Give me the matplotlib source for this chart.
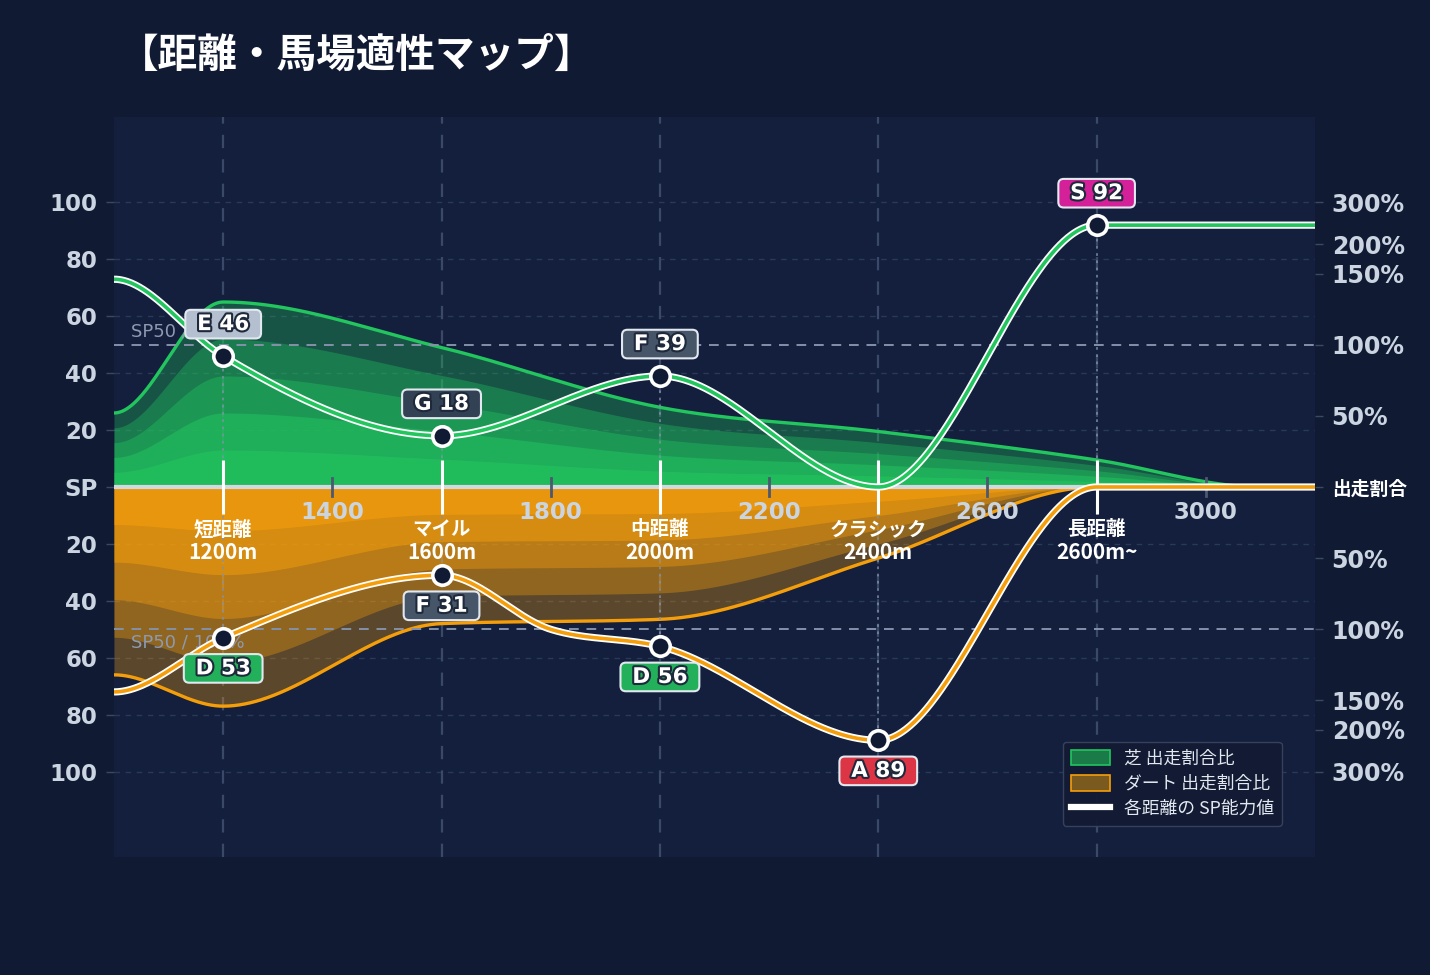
import numpy as np
import matplotlib
matplotlib.use("Agg")
import matplotlib.pyplot as plt
import matplotlib.patheffects as pe
from matplotlib.patches import Patch
from matplotlib.lines import Line2D

plt.rcParams['font.family'] = ['Noto Sans CJK JP', 'DejaVu Sans']

# SP ability per distance
turf_dist = [1000, 1200, 1600, 2000, 2400, 2800, 3200]
turf_sp = [73, 46, 18, 39, 0, 92, 92]
dirt_dist = [1000, 1200, 1600, 1800, 2000, 2400, 2800, 3200]
dirt_sp = [72, 53, 31, 50, 56, 89, 0, 0]

# share (出走割合比) outlines, in chart units
turf_share_dist = [1000, 1200, 1600, 2000, 2400, 2800, 3100, 3200]
turf_share = [26, 65, 49, 28, 19.5, 9.5, 0, 0]
dirt_share_dist = [1000, 1200, 1600, 2000, 2400, 2800, 3200]
dirt_share = [66, 77, 48, 46.5, 25, 0, 0]

cat_dist = [1200, 1600, 2000, 2400, 2800]
cat_names = ['短距離', 'マイル', '中距離', 'クラシック', '長距離']
cat_labels = ['1200m', '1600m', '2000m', '2400m', '2600m~']
turf_rank = ['E', 'G', 'F', '', 'S']
dirt_rank = ['D', 'F', 'D', 'A', '']
minor_dist = [1400, 1800, 2200, 2600, 3000]

ratio_ticks = [0.5, 1.0, 1.5, 2.0, 3.0]
rank_colors = {'S': '#d4219a', 'A': '#dc3545', 'B': '#f97316', 'C': '#eab308',
               'D': '#22b05a', 'E': '#b4c0d0', 'F': '#475569', 'G': '#334155'}

BG = '#101a33'
PLOT_BG = '#131f3c'
GREEN = '#22c55e'
ORANGE = '#f59e0b'
TXT = '#cbd5e1'
LAYERS = [(1.0, 0.32), (0.8, 0.35), (0.6, 0.4), (0.4, 0.5), (0.2, 0.6)]


def monotone(x, y, xs):
    x = np.asarray(x, float)
    y = np.asarray(y, float)
    h = np.diff(x)
    s = np.diff(y) / h
    n = len(x)
    m = np.zeros(n)
    for i in range(1, n - 1):
        if s[i - 1] * s[i] > 0:
            p = (s[i - 1] * h[i] + s[i] * h[i - 1]) / (h[i - 1] + h[i])
            m[i] = np.sign(s[i - 1]) * 2 * min(abs(s[i - 1]), abs(s[i]), 0.5 * abs(p))
    idx = np.clip(np.searchsorted(x, xs) - 1, 0, n - 2)
    t = (xs - x[idx]) / h[idx]
    h00 = 2 * t**3 - 3 * t**2 + 1
    h10 = t**3 - 2 * t**2 + t
    h01 = -2 * t**3 + 3 * t**2
    h11 = t**3 - t**2
    return (h00 * y[idx] + h10 * h[idx] * m[idx] +
            h01 * y[idx + 1] + h11 * h[idx] * m[idx + 1])


def ratio_to_y(r):
    return 50 * r if r <= 1.5 else 75 + 25 * np.log2(r / 1.5)


xs = np.linspace(1000, 3200, 900)
turf_line = monotone(turf_dist, turf_sp, xs)
dirt_line = -monotone(dirt_dist, dirt_sp, xs)
turf_area = monotone(turf_share_dist, turf_share, xs)
dirt_area = -monotone(dirt_share_dist, dirt_share, xs)

fig = plt.figure(figsize=(14.3, 9.75), dpi=100, facecolor=BG)
ax = fig.add_axes([114 / 1430, 1 - 857 / 975, 1201 / 1430, 740 / 975])
ax.set_facecolor(PLOT_BG)
ax.set_xlim(1000, 3200)
ax.set_ylim(-130, 130)
for sp in ax.spines.values():
    sp.set_visible(False)

# grid
for g in [-100, -80, -60, -40, -20, 20, 40, 60, 80, 100]:
    ax.axhline(g, color='#2a3958', lw=1, dashes=(4, 4), zorder=1)
for c in cat_dist:
    ax.axvline(c, color='#3a4968', lw=1.6, dashes=(6, 5), zorder=1)

# share areas: stacked translucent layers
for f, a in LAYERS:
    ax.fill_between(xs, 0, turf_area * f, color=GREEN, alpha=a, lw=0, zorder=2)
    ax.fill_between(xs, 0, dirt_area * f, color=ORANGE, alpha=a, lw=0, zorder=2)
ax.plot(xs, turf_area, color=GREEN, lw=2.4, zorder=3)
ax.plot(xs, dirt_area, color=ORANGE, lw=2.4, zorder=3)

# SP50 reference lines
for y in (50, -50):
    ax.axhline(y, color='#8391a9', lw=1.4, dashes=(5, 4), zorder=3.5)
ax.text(1031, 51.5, 'SP50 / 100%', color='#8d9ab0', fontsize=13,
        family='DejaVu Sans', va='bottom', ha='left', zorder=3.6)
ax.text(1031, -51.5, 'SP50 / 100%', color='#8d9ab0', fontsize=13,
        family='DejaVu Sans', va='top', ha='left', zorder=3.6)

# centre SP axis
ax.axhline(0, color='#d3d8e0', lw=3, zorder=4)
for d in minor_dist:
    ax.plot([d, d], [3.3, -3.3], color='#4b5870', lw=2, zorder=4.5)
    ax.text(d, -8.8, str(d), color=TXT, fontsize=16.5, fontweight='bold',
            family='DejaVu Sans', ha='center', va='center', zorder=5)
for c, name, lab in zip(cat_dist, cat_names, cat_labels):
    ax.plot([c, c], [9.5, -9.5], color='white', lw=2.2, zorder=4.5,
            solid_capstyle='butt')
    ax.text(c, -15, name, color='white', fontsize=14, fontweight='bold',
            ha='center', va='center', zorder=5)
    ax.text(c, -22.9, lab, color='white', fontsize=15, fontweight='bold',
            ha='center', va='center', zorder=5)

# SP lines
ax.plot(xs, turf_line, color='white', lw=5.2, zorder=6, solid_capstyle='butt')
ax.plot(xs, turf_line, color=GREEN, lw=2.6, zorder=6.1, solid_capstyle='butt')
ax.plot(xs, dirt_line, color='white', lw=5.2, zorder=6, solid_capstyle='butt')
ax.plot(xs, dirt_line, color=ORANGE, lw=2.6, zorder=6.1, solid_capstyle='butt')

stroke = [pe.withStroke(linewidth=3, foreground='#1e293b')]
for c, tr, dr in zip(cat_dist, turf_rank, dirt_rank):
    tv = np.interp(c, turf_dist, turf_sp)
    dv = np.interp(c, dirt_dist, dirt_sp)
    for rank, v, sign in ((tr, tv, 1), (dr, dv, -1)):
        if not rank:
            continue
        y = sign * v
        ax.plot([c, c], [0, y], color='#8391a9', lw=1.3, ls=(0, (1.5, 2.5)),
                alpha=0.8, zorder=3.2)
        ax.plot(c, y, 'o', ms=14, mfc='#101a33', mec='white', mew=2.6, zorder=7)
        ax.annotate(f' {rank} {int(v)} ', (c, y), xytext=(0, 23 if sign > 0 else -22),
                    textcoords='offset points', ha='center', va='center',
                    color='white', fontsize=15.5, fontweight='bold',
                    family='DejaVu Sans', path_effects=stroke, zorder=8,
                    bbox=dict(boxstyle='round,pad=0.2,rounding_size=0.25',
                              fc=rank_colors[rank], ec='#e2e8f0', lw=1.5))

# left axis
yt = [-100, -80, -60, -40, -20, 0, 20, 40, 60, 80, 100]
ax.set_yticks(yt)
ax.set_yticklabels(['SP' if v == 0 else str(abs(v)) for v in yt],
                   family='DejaVu Sans', fontweight='bold', fontsize=16.5, color=TXT)
ax.tick_params(axis='y', length=6, width=1, color='#3b4862', pad=6)
ax.set_xticks([])

# right axis: share ratio
ax2 = ax.twinx()
ax2.set_ylim(-130, 130)
for sp in ax2.spines.values():
    sp.set_visible(False)
rt = [ratio_to_y(r) for r in ratio_ticks]
rpos = [-v for v in rt[::-1]] + [0] + rt
rlab = [f'{int(r * 100)}%' for r in ratio_ticks[::-1]] + ['出走割合'] + \
       [f'{int(r * 100)}%' for r in ratio_ticks]
ax2.set_yticks(rpos)
ax2.set_yticklabels(rlab, fontweight='bold', fontsize=17, color=TXT,
                    family='DejaVu Sans')
for t in ax2.get_yticklabels():
    if t.get_text() == '出走割合':
        t.set_family(['Noto Sans CJK JP', 'DejaVu Sans'])
        t.set_fontsize(13.5)
        t.set_color('white')
ax2.tick_params(axis='y', length=6, width=1, color='#3b4862', pad=6)

# legend
handles = [Patch(fc='#1a7a48', ec=GREEN, lw=1.2),
           Patch(fc='#7a5a1e', ec=ORANGE, lw=1.2),
           Line2D([], [], color='white', lw=4.5)]
leg = ax2.legend(handles, ['芝 出走割合比', 'ダート 出走割合比', '各距離の SP能力値'],
                 loc='lower right', bbox_to_anchor=(0.9725, 0.042),
                 borderaxespad=0, fontsize=12.8, frameon=True,
                 facecolor='#121b33', edgecolor='#39455e', framealpha=0.95,
                 labelcolor='#e2e8f0', handlelength=2.2, handleheight=1.0,
                 borderpad=0.45, labelspacing=0.4)
leg.set_zorder(10)

fig.text(0.083, 0.943, '【距離・馬場適性マップ】', color='white', fontsize=28.5,
         fontweight='bold', va='center', ha='left')

fig.savefig('out.png', dpi=100, facecolor=BG)
